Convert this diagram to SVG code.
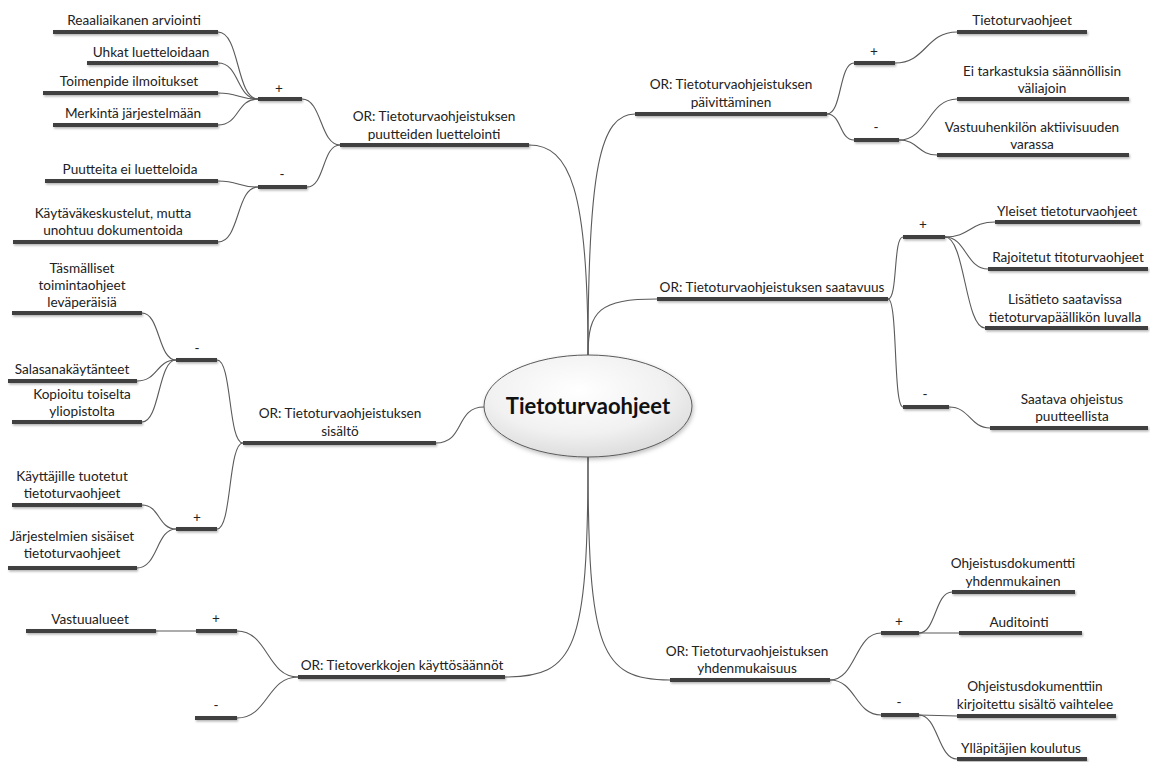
<svg xmlns="http://www.w3.org/2000/svg" width="1150" height="762" viewBox="0 0 1150 762">
  <defs>
    <radialGradient id="rootFill" cx="45%" cy="35%" r="70%">
      <stop offset="0" stop-color="#ffffff"/>
      <stop offset="0.6" stop-color="#f1f1f1"/>
      <stop offset="1" stop-color="#d9d9d9"/>
    </radialGradient>
    <filter id="barShadow" filterUnits="userSpaceOnUse" x="0" y="0" width="1150" height="762">
      <feDropShadow dx="1" dy="1.5" stdDeviation="1" flood-color="#000" flood-opacity="0.3"/>
    </filter>
    <filter id="rootShadow" x="-10%" y="-10%" width="120%" height="130%">
      <feDropShadow dx="1" dy="2" stdDeviation="2" flood-color="#000" flood-opacity="0.25"/>
    </filter>
  </defs>
  <style>
    text { font-family: Lato, "Open Sans", "DejaVu Sans", sans-serif; font-size: 13.6px; fill: #222; text-anchor: middle; }
    .bar { stroke: #404040; stroke-width: 4; fill: none; }
    .bars { filter: url(#barShadow); }
    .link { stroke: #5a5a5a; stroke-width: 1.1; fill: none; }
    .root { font-size: 22px; font-weight: bold; fill: #111; }
  </style>
  <rect width="1150" height="762" fill="#ffffff"/>

  <!-- connectors -->
  <g id="connectors">
    <!-- root to main branches -->
    <path class="link" d="M588,355 C588,190 570,145 529,145"/>
    <path class="link" d="M588,355 C588,170 600,114 635,114"/>
    <path class="link" d="M588,355 C588,310 600,299 657,299"/>
    <path class="link" d="M484,407 C455,407 465,443 436,443"/>
    <path class="link" d="M588,457 C588,650 575,677 505,677"/>
    <path class="link" d="M588,457 C588,650 600,680 670,680"/>

    <!-- puutteiden luettelointi -->
    <path class="link" d="M302,99 C322,99 320,145 340,145"/>
    <path class="link" d="M307,187 C325,187 322,145 340,145"/>
    <path class="link" d="M218,32 C240,32 236,99 258,99"/>
    <path class="link" d="M218,63 C240,63 236,99 258,99"/>
    <path class="link" d="M218,93 C240,93 236,99 258,99"/>
    <path class="link" d="M218,125 C240,125 236,99 258,99"/>
    <path class="link" d="M218,181 C240,181 236,187 258,187"/>
    <path class="link" d="M218,242 C240,242 236,187 258,187"/>

    <!-- päivittäminen -->
    <path class="link" d="M827,114 C842,114 839,63 854,63"/>
    <path class="link" d="M827,114 C842,114 839,140 854,140"/>
    <path class="link" d="M895,63 C926,63 926,32 957,32"/>
    <path class="link" d="M899,140 C928,140 928,99 957,99"/>
    <path class="link" d="M899,140 C918,140 918,155 937,155"/>

    <!-- saatavuus -->
    <path class="link" d="M888,299 C898,299 893,237 903,237"/>
    <path class="link" d="M888,299 C898,299 893,407 903,407"/>
    <path class="link" d="M945,237 C970,237 970,222 995,222"/>
    <path class="link" d="M945,237 C966,237 966,269 988,269"/>
    <path class="link" d="M945,237 C965,237 965,328 985,328"/>
    <path class="link" d="M949,407 C970,407 970,428 990,428"/>

    <!-- sisältö -->
    <path class="link" d="M217,360 C232,360 228,443 243,443"/>
    <path class="link" d="M217,529 C232,529 228,443 243,443"/>
    <path class="link" d="M142,313 C160,313 158,360 176,360"/>
    <path class="link" d="M137,381 C158,381 156,360 176,360"/>
    <path class="link" d="M142,422 C160,422 158,360 176,360"/>
    <path class="link" d="M142,505 C160,505 158,529 176,529"/>
    <path class="link" d="M137,568 C158,568 156,529 176,529"/>

    <!-- käyttösäännöt -->
    <path class="link" d="M237,631 C268,631 267,677 298,677"/>
    <path class="link" d="M237,718 C268,718 267,677 298,677"/>
    <path class="link" d="M156,631 L196,631"/>

    <!-- yhdenmukaisuus -->
    <path class="link" d="M830,680 C856,680 855,633 881,633"/>
    <path class="link" d="M830,680 C856,680 855,715 881,715"/>
    <path class="link" d="M919,633 C936,633 935,592 952,592"/>
    <path class="link" d="M919,633 L959,633"/>
    <path class="link" d="M919,715 L957,716"/>
    <path class="link" d="M919,715 C938,715 938,759 957,759"/>
  </g>

  <!-- central topic -->
  <g id="root">
    <ellipse cx="588" cy="406" rx="104" ry="51" fill="url(#rootFill)" stroke="#5a5a5a" stroke-width="1" filter="url(#rootShadow)"/>
    <text class="root" x="588" y="414">Tietoturvaohjeet</text>
  </g>

  <!-- branch: puutteiden luettelointi -->
  <g id="n-luettelointi">
    <line class="bar bars" x1="340" y1="145" x2="529" y2="145"/>
    <text x="434" y="121">OR: Tietoturvaohjeistuksen</text>
    <text x="434" y="139">puutteiden luettelointi</text>
  </g>
  <g id="n-luettelointi-plus">
    <line class="bar bars" x1="258" y1="99" x2="302" y2="99"/>
    <text x="279" y="93">+</text>
  </g>
  <g id="n-luettelointi-minus">
    <line class="bar bars" x1="258" y1="187" x2="307" y2="187"/>
    <text x="282" y="179">-</text>
  </g>
  <g id="n-reaaliaikanen">
    <line class="bar bars" x1="53" y1="32" x2="218" y2="32"/>
    <text x="134" y="25">Reaaliaikanen arviointi</text>
  </g>
  <g id="n-uhkat">
    <line class="bar bars" x1="87" y1="63" x2="218" y2="63"/>
    <text x="151" y="57">Uhkat luetteloidaan</text>
  </g>
  <g id="n-toimenpide">
    <line class="bar bars" x1="43" y1="93" x2="218" y2="93"/>
    <text x="129" y="86">Toimenpide ilmoitukset</text>
  </g>
  <g id="n-merkinta">
    <line class="bar bars" x1="53" y1="125" x2="218" y2="125"/>
    <text x="133" y="118">Merkintä järjestelmään</text>
  </g>
  <g id="n-puutteita">
    <line class="bar bars" x1="45" y1="181" x2="218" y2="181"/>
    <text x="130" y="174">Puutteita ei luetteloida</text>
  </g>
  <g id="n-kaytava">
    <line class="bar bars" x1="13" y1="242" x2="218" y2="242"/>
    <text x="113" y="218">Käytäväkeskustelut, mutta</text>
    <text x="113" y="235">unohtuu dokumentoida</text>
  </g>

  <!-- branch: päivittäminen -->
  <g id="n-paivittaminen">
    <line class="bar bars" x1="635" y1="114" x2="827" y2="114"/>
    <text x="731" y="89">OR: Tietoturvaohjeistuksen</text>
    <text x="731" y="107">päivittäminen</text>
  </g>
  <g id="n-paivittaminen-plus">
    <line class="bar bars" x1="854" y1="63" x2="895" y2="63"/>
    <text x="874" y="56">+</text>
  </g>
  <g id="n-paivittaminen-minus">
    <line class="bar bars" x1="854" y1="140" x2="899" y2="140"/>
    <text x="876" y="132">-</text>
  </g>
  <g id="n-ohjeet">
    <line class="bar bars" x1="957" y1="32" x2="1087" y2="32"/>
    <text x="1022" y="25">Tietoturvaohjeet</text>
  </g>
  <g id="n-tarkastuksia">
    <line class="bar bars" x1="957" y1="99" x2="1129" y2="99"/>
    <text x="1042" y="76">Ei tarkastuksia säännöllisin</text>
    <text x="1042" y="93">väliajoin</text>
  </g>
  <g id="n-vastuuhenkilo">
    <line class="bar bars" x1="937" y1="155" x2="1129" y2="155"/>
    <text x="1032" y="132">Vastuuhenkilön aktiivisuuden</text>
    <text x="1032" y="149">varassa</text>
  </g>

  <!-- branch: saatavuus -->
  <g id="n-saatavuus">
    <line class="bar bars" x1="657" y1="299" x2="888" y2="299"/>
    <text x="772" y="292">OR: Tietoturvaohjeistuksen saatavuus</text>
  </g>
  <g id="n-saatavuus-plus">
    <line class="bar bars" x1="903" y1="237" x2="945" y2="237"/>
    <text x="923" y="229">+</text>
  </g>
  <g id="n-saatavuus-minus">
    <line class="bar bars" x1="903" y1="407" x2="949" y2="407"/>
    <text x="925" y="399">-</text>
  </g>
  <g id="n-yleiset">
    <line class="bar bars" x1="995" y1="222" x2="1140" y2="222"/>
    <text x="1067" y="216">Yleiset tietoturvaohjeet</text>
  </g>
  <g id="n-rajoitetut">
    <line class="bar bars" x1="988" y1="269" x2="1148" y2="269"/>
    <text x="1068" y="262">Rajoitetut titoturvaohjeet</text>
  </g>
  <g id="n-lisatieto">
    <line class="bar bars" x1="985" y1="328" x2="1148" y2="328"/>
    <text x="1065" y="304">Lisätieto saatavissa</text>
    <text x="1065" y="322">tietoturvapäällikön luvalla</text>
  </g>
  <g id="n-saatava">
    <line class="bar bars" x1="990" y1="428" x2="1148" y2="428"/>
    <text x="1072" y="404">Saatava ohjeistus</text>
    <text x="1072" y="421">puutteellista</text>
  </g>

  <!-- branch: sisältö -->
  <g id="n-sisalto">
    <line class="bar bars" x1="243" y1="443" x2="436" y2="443"/>
    <text x="340" y="418">OR: Tietoturvaohjeistuksen</text>
    <text x="340" y="436">sisältö</text>
  </g>
  <g id="n-sisalto-minus">
    <line class="bar bars" x1="176" y1="360" x2="217" y2="360"/>
    <text x="197" y="353">-</text>
  </g>
  <g id="n-sisalto-plus">
    <line class="bar bars" x1="176" y1="529" x2="217" y2="529"/>
    <text x="197" y="522">+</text>
  </g>
  <g id="n-tasmalliset">
    <line class="bar bars" x1="12" y1="313" x2="142" y2="313"/>
    <text x="82" y="273">Täsmälliset</text>
    <text x="82" y="290">toimintaohjeet</text>
    <text x="82" y="307">leväperäisiä</text>
  </g>
  <g id="n-salasana">
    <line class="bar bars" x1="8" y1="381" x2="137" y2="381"/>
    <text x="72" y="374">Salasanakäytänteet</text>
  </g>
  <g id="n-kopioitu">
    <line class="bar bars" x1="12" y1="422" x2="142" y2="422"/>
    <text x="82" y="399">Kopioitu toiselta</text>
    <text x="82" y="416">yliopistolta</text>
  </g>
  <g id="n-kayttajille">
    <line class="bar bars" x1="12" y1="505" x2="142" y2="505"/>
    <text x="72" y="481">Käyttäjille tuotetut</text>
    <text x="72" y="498">tietoturvaohjeet</text>
  </g>
  <g id="n-jarjestelmien">
    <line class="bar bars" x1="8" y1="568" x2="137" y2="568"/>
    <text x="72" y="541">Järjestelmien sisäiset</text>
    <text x="72" y="558">tietoturvaohjeet</text>
  </g>

  <!-- branch: käyttösäännöt -->
  <g id="n-kayttosaannot">
    <line class="bar bars" x1="298" y1="677" x2="505" y2="677"/>
    <text x="402" y="670">OR: Tietoverkkojen käyttösäännöt</text>
  </g>
  <g id="n-kayttosaannot-plus">
    <line class="bar bars" x1="196" y1="631" x2="237" y2="631"/>
    <text x="216" y="623">+</text>
  </g>
  <g id="n-kayttosaannot-minus">
    <line class="bar bars" x1="195" y1="718" x2="237" y2="718"/>
    <text x="216" y="710">-</text>
  </g>
  <g id="n-vastuualueet">
    <line class="bar bars" x1="26" y1="631" x2="156" y2="631"/>
    <text x="90" y="624">Vastuualueet</text>
  </g>

  <!-- branch: yhdenmukaisuus -->
  <g id="n-yhdenmukaisuus">
    <line class="bar bars" x1="670" y1="680" x2="830" y2="680"/>
    <text x="747" y="656">OR: Tietoturvaohjeistuksen</text>
    <text x="747" y="673">yhdenmukaisuus</text>
  </g>
  <g id="n-yhdenmukaisuus-plus">
    <line class="bar bars" x1="881" y1="633" x2="919" y2="633"/>
    <text x="899" y="626">+</text>
  </g>
  <g id="n-yhdenmukaisuus-minus">
    <line class="bar bars" x1="881" y1="715" x2="919" y2="715"/>
    <text x="899" y="707">-</text>
  </g>
  <g id="n-dokumentti">
    <line class="bar bars" x1="952" y1="592" x2="1075" y2="592"/>
    <text x="1013" y="568">Ohjeistusdokumentti</text>
    <text x="1013" y="586">yhdenmukainen</text>
  </g>
  <g id="n-auditointi">
    <line class="bar bars" x1="959" y1="633" x2="1082" y2="633"/>
    <text x="1019" y="627">Auditointi</text>
  </g>
  <g id="n-dokumenttiin">
    <line class="bar bars" x1="957" y1="716" x2="1116" y2="716"/>
    <text x="1035" y="691">Ohjeistusdokumenttiin</text>
    <text x="1035" y="709">kirjoitettu sisältö vaihtelee</text>
  </g>
  <g id="n-koulutus">
    <line class="bar bars" x1="957" y1="759" x2="1087" y2="759"/>
    <text x="1021" y="753">Ylläpitäjien koulutus</text>
  </g>
</svg>
